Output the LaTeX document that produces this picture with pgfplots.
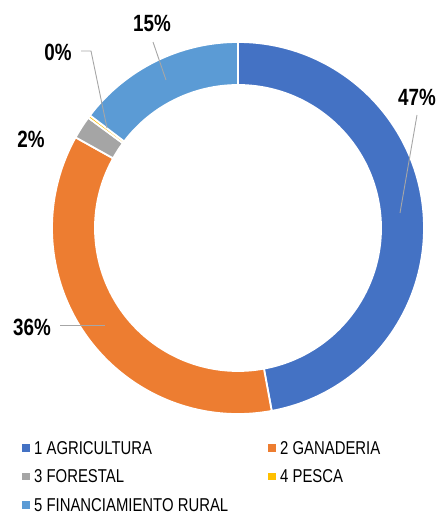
\documentclass[border=0pt]{standalone}
\usepackage{fontspec}
\setmainfont{Liberation Sans}[FakeStretch=0.8]
\usepackage{pgfplots}
\usepackage{pgfplotstable}
\pgfplotsset{compat=1.18}

\definecolor{agri}{HTML}{4472C4}
\definecolor{gana}{HTML}{ED7D31}
\definecolor{fore}{HTML}{A5A5A5}
\definecolor{pesca}{HTML}{FFC000}
\definecolor{fin}{HTML}{5B9BD5}
\definecolor{leader}{HTML}{A6A6A6}

% share of each line (percent), clockwise from 12 o'clock
\pgfplotstableread[col sep=comma]{
name,value,col
1 AGRICULTURA,47.1,agri
2 GANADERIA,36.0,gana
3 FORESTAL,2.0,fore
4 PESCA,0.25,pesca
5 FINANCIAMIENTO RURAL,14.65,fin
}\donut

\begin{document}
\begin{tikzpicture}
\begin{axis}[
    hide axis, clip=false,
    x=1bp, y=1bp,
    xmin=0, xmax=438, ymin=0, ymax=514,
    legend columns=2,
    legend cell align=left,
    legend style={
        at={(axis cs:22,73)}, anchor=north west,
        draw=none, fill=none, inner sep=0pt,
        font=\fontsize{18.6bp}{20bp}\selectfont,
        nodes={inner sep=0pt, text height=13.4bp, text depth=0bp},
        row sep=14.9bp,
        /tikz/every odd column/.append style={column sep=5bp},
        /tikz/every even column/.append style={column sep=40bp},
    },
]
\path (axis cs:0,0) rectangle (axis cs:438,514);

\def\cum{0}
\pgfplotsforeachungrouped \i in {0,...,4} {
  \pgfplotstablegetelem{\i}{value}\of\donut \let\v\pgfplotsretval
  \pgfplotstablegetelem{\i}{col}\of\donut \let\c\pgfplotsretval
  \pgfmathsetmacro\a{90-3.6*\cum}
  \pgfmathsetmacro\b{90-3.6*(\cum+\v)}
  \pgfmathsetmacro\cum{\cum+\v}
  \edef\temp{\noexpand\filldraw[fill=\c, draw=white, line width=1.8bp]
    ([shift={(\a:186bp)}]axis cs:238,286) arc[start angle=\a, end angle=\b, radius=186bp]
    -- ([shift={(\b:143bp)}]axis cs:238,286) arc[start angle=\b, end angle=\a, radius=143bp]
    -- cycle;}
  \temp
}

% leader lines
\draw[leader, line width=0.9bp] (axis cs:417,399) -- (axis cs:400,301);
\draw[leader, line width=0.9bp] (axis cs:60,189) -- (axis cs:105,189);
\draw[leader, line width=0.9bp] (axis cs:153,472) -- (axis cs:166,434);
\draw[leader, line width=0.9bp] (axis cs:81,463) -- (axis cs:91,463) -- (axis cs:107,386);

% data labels
\begin{scope}[font=\fontsize{23.5bp}{26bp}\selectfont\bfseries]
\node at (axis cs:417,417) {47\%};
\node at (axis cs:32,187) {36\%};
\node at (axis cs:31,375) {2\%};
\node at (axis cs:58,462) {0\%};
\node at (axis cs:152,491) {15\%};
\end{scope}

\addlegendimage{legend image code/.code={\fill[agri] (0bp,-3.3bp) rectangle (6.6bp,3.3bp);}}
\addlegendentry{1 AGRICULTURA}
\addlegendimage{legend image code/.code={\fill[gana] (0bp,-3.3bp) rectangle (6.6bp,3.3bp);}}
\addlegendentry{2 GANADERIA}
\addlegendimage{legend image code/.code={\fill[fore] (0bp,-3.3bp) rectangle (6.6bp,3.3bp);}}
\addlegendentry{3 FORESTAL}
\addlegendimage{legend image code/.code={\fill[pesca] (0bp,-3.3bp) rectangle (6.6bp,3.3bp);}}
\addlegendentry{4 PESCA}
\addlegendimage{legend image code/.code={\fill[fin] (0bp,-3.3bp) rectangle (6.6bp,3.3bp);}}
\addlegendentry{5 FINANCIAMIENTO RURAL}
\end{axis}
\end{tikzpicture}
\end{document}
